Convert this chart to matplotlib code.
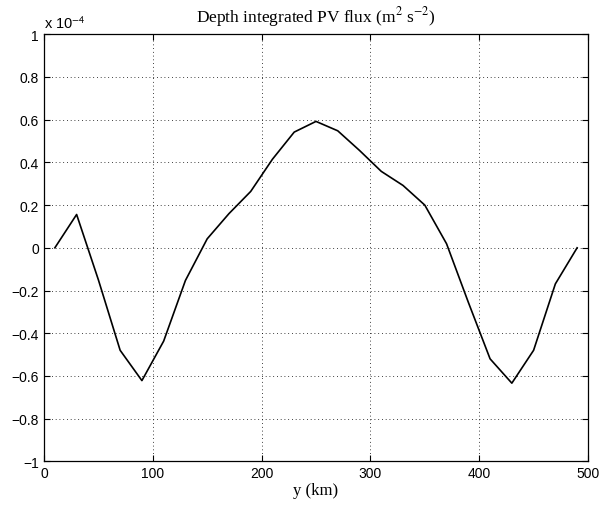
import numpy as np
import matplotlib
matplotlib.use('Agg')
from matplotlib import pyplot as plt
from matplotlib.ticker import FuncFormatter

plt.rcParams['mathtext.fontset'] = 'stix'

# along-channel position (km) and depth integrated PV flux (units of 1e-4 m^2 s^-2)
y_km = [10, 30, 50, 70, 90, 110, 130, 150, 170, 190, 210, 230, 250,
        270, 290, 310, 330, 350, 370, 390, 410, 430, 450, 470, 490]
flux_e4 = [0.0, 0.156, -0.15, -0.48, -0.622, -0.437, -0.153, 0.042, 0.16, 0.264,
           0.415, 0.542, 0.592, 0.548, 0.456, 0.358, 0.292, 0.20, 0.019, -0.255,
           -0.52, -0.634, -0.48, -0.169, 0.0]
scale = 1e-4

xticks = [0, 100, 200, 300, 400, 500]
yticks = [-1, -0.8, -0.6, -0.4, -0.2, 0, 0.2, 0.4, 0.6, 0.8, 1]

flux = np.array(flux_e4) * scale

fig = plt.figure(figsize=(6, 5.1), dpi=100)
ax = fig.add_axes([0.0733, 0.0935, 0.9067, 0.8373])

ax.plot(y_km, flux, '-k', linewidth=1.2)

ax.set_xlim(0, 500)
ax.set_ylim(-1 * scale, 1 * scale)
ax.set_xticks(xticks)
ax.set_yticks(np.array(yticks) * scale)

def fmt(v, pos):
    s = '%g' % round(v / scale, 6)
    return s.replace('-', '\u2212')

ax.yaxis.set_major_formatter(FuncFormatter(fmt))
ax.tick_params(direction='in', top=True, right=True, length=4, width=0.8,
               labelsize=10)
for lab in ax.get_xticklabels() + ax.get_yticklabels():
    lab.set_fontfamily('Liberation Sans')

ax.grid(True, linestyle=(0, (1, 3.5)), color='k', linewidth=0.6)
for sp in ax.spines.values():
    sp.set_linewidth(0.9)

ax.text(0.0, 1.008, 'x 10$^{\\mathsf{-4}}$', transform=ax.transAxes,
        fontsize=10.5, family='Liberation Sans', va='bottom', ha='left')
ax.set_title('Depth integrated PV flux (m$^2$ s$^{-2}$)', family='Liberation Serif',
             fontsize=12.5, pad=9)
ax.set_xlabel('y (km)', family='Liberation Serif', fontsize=12, labelpad=1)

fig.savefig('out.png', dpi=100)
